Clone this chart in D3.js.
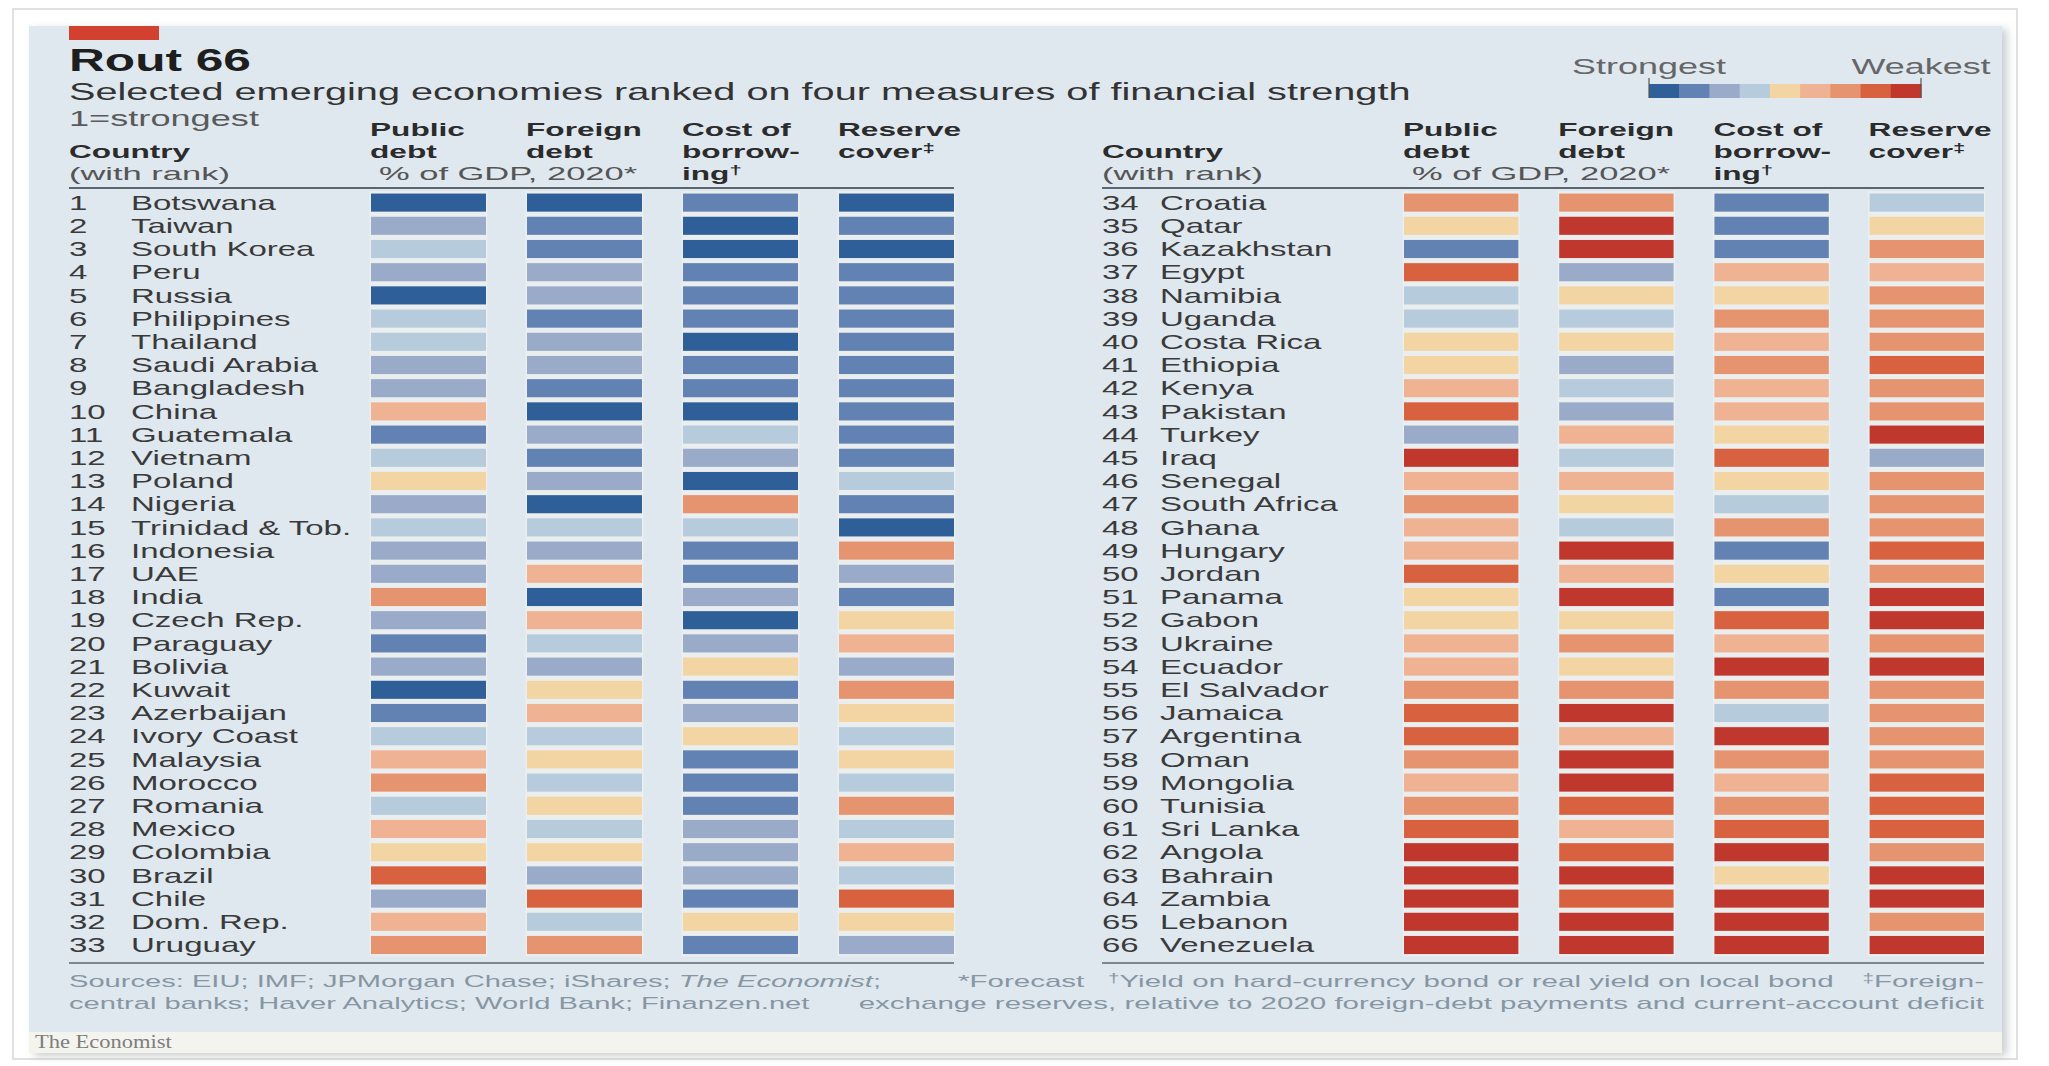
<!DOCTYPE html>
<html>
<head>
<meta charset="utf-8">
<script src="https://cdn.jsdelivr.net/npm/d3@7"></script>
<style>
  html, body { margin: 0; padding: 0; background: #ffffff; }
  svg { display: block; font-family: "Liberation Sans", Arial, sans-serif; }
</style>
</head>
<body>
<svg id="chart" width="2049" height="1066"></svg>
<script>
// Countries in overall rank order (1 = strongest)
const countries = [
  "Botswana", "Taiwan", "South Korea", "Peru", "Russia", "Philippines", "Thailand",
  "Saudi Arabia", "Bangladesh", "China", "Guatemala", "Vietnam", "Poland", "Nigeria",
  "Trinidad & Tob.", "Indonesia", "UAE", "India", "Czech Rep.", "Paraguay", "Bolivia",
  "Kuwait", "Azerbaijan", "Ivory Coast", "Malaysia", "Morocco", "Romania", "Mexico",
  "Colombia", "Brazil", "Chile", "Dom. Rep.", "Uruguay",
  "Croatia", "Qatar", "Kazakhstan", "Egypt", "Namibia", "Uganda", "Costa Rica",
  "Ethiopia", "Kenya", "Pakistan", "Turkey", "Iraq", "Senegal", "South Africa",
  "Ghana", "Hungary", "Jordan", "Panama", "Gabon", "Ukraine", "Ecuador",
  "El Salvador", "Jamaica", "Argentina", "Oman", "Mongolia", "Tunisia", "Sri Lanka",
  "Angola", "Bahrain", "Zambia", "Lebanon", "Venezuela"
];

// Strength band per measure, 1 = strongest ... 9 = weakest
const publicDebt = [
  1, 3, 4, 3, 1, 4, 4, 3, 3, 6, 2, 4, 5, 3, 4, 3, 3, 7, 3, 2, 3, 1, 2, 4, 6, 7, 4, 6, 5, 8, 3, 6, 7,
  7, 5, 2, 8, 4, 4, 5, 5, 6, 8, 3, 9, 6, 7, 6, 6, 8, 5, 5, 6, 6, 7, 8, 8, 7, 6, 7, 8, 9, 9, 9, 9, 9
];
const foreignDebt = [
  1, 2, 2, 3, 3, 2, 3, 3, 2, 1, 3, 2, 3, 1, 4, 3, 6, 1, 6, 4, 3, 5, 6, 4, 5, 4, 5, 4, 5, 3, 8, 4, 7,
  7, 9, 9, 3, 5, 4, 5, 3, 4, 3, 6, 4, 6, 5, 4, 9, 6, 9, 5, 7, 5, 7, 9, 6, 9, 9, 8, 6, 8, 9, 8, 9, 9
];
const costOfBorrowing = [
  2, 1, 1, 2, 2, 2, 1, 2, 2, 1, 4, 3, 1, 7, 4, 2, 2, 3, 1, 3, 5, 2, 3, 5, 2, 2, 2, 3, 3, 3, 2, 5, 2,
  2, 2, 2, 6, 5, 7, 6, 7, 6, 6, 5, 8, 5, 4, 7, 2, 5, 2, 8, 6, 9, 7, 4, 9, 7, 6, 7, 8, 9, 5, 9, 9, 9
];
const reserveCover = [
  1, 2, 1, 2, 2, 2, 2, 2, 2, 2, 2, 2, 4, 2, 1, 7, 3, 2, 5, 6, 3, 7, 5, 4, 5, 4, 7, 4, 6, 4, 8, 5, 3,
  4, 5, 7, 6, 7, 7, 7, 8, 7, 7, 9, 3, 7, 7, 7, 8, 7, 9, 9, 7, 9, 7, 7, 7, 7, 8, 8, 8, 7, 9, 9, 7, 9
];

const measureHeadings = [
  ["Public", "debt"],
  ["Foreign", "debt"],
  ["Cost of", "borrow-", "ing†"],
  ["Reserve", "cover‡"]
];
const bands = [1, 2, 3, 4, 5, 6, 7, 8, 9];
const bandColours = [
  "#2e5f98", "#6182b3", "#9aabc9", "#b6cbdb", "#f3d5a3",
  "#efb292", "#e6936f", "#d8613f", "#c0382d"
];
const legendLabels = ["Strongest", "Weakest"];

const title = "Rout 66";
const subtitle = "Selected emerging economies ranked on four measures of financial strength";
const rankNote = "1=strongest";
const unitNote = "% of GDP, 2020*";
const sourceLines = [
  ["Sources: EIU; IMF; JPMorgan Chase; iShares; ", "The Economist", ";"],
  ["central banks; Haver Analytics; World Bank; Finanzen.net"]
];
const noteForecast = "*Forecast";
const noteYield = "Yield on hard-currency bond or real yield on local bond";
const noteReserve1 = "Foreign-";
const noteReserve2 = "exchange reserves, relative to 2020 foreign-debt payments and current-account deficit";
const brand = "The Economist";

// ---------------------------------------------------------------
const svg = d3.select("#chart");
const colour = d3.scaleOrdinal().domain(bands).range(bandColours);

// natural width of a string, used to set the wide lettering of each text style
function measure(str, size, weight) {
  const t = svg.append("text").attr("font-size", size).attr("font-weight", weight).text(str);
  const w = t.node().getComputedTextLength();
  t.remove();
  return w;
}

const FONT = {
  title:  { size: 32, weight: 700 },
  sub:    { size: 24, weight: 400 },
  note:   { size: 22, weight: 400 },
  legend: { size: 22, weight: 400 },
  head:   { size: 19, weight: 700 },
  headSm: { size: 19, weight: 400 },
  row:    { size: 20, weight: 400 },
  foot:   { size: 17, weight: 400 }
};
FONT.title.sx  = 182 / measure(title, 32, 700);
FONT.sub.sx    = 1342 / measure(subtitle, 24, 400);
FONT.note.sx   = 190 / measure(rankNote, 22, 400);
FONT.legend.sx = 154 / measure("Strongest", 22, 400);
FONT.head.sx   = 116 / measure("Foreign", 19, 700);
FONT.headSm.sx = 161 / measure("(with rank)", 19, 400);
FONT.row.sx    = 145 / measure("Botswana", 20, 400);
FONT.foot.sx   = 1126 / measure(noteReserve2, 17, 400);
const FONT_SRC = { ...FONT.foot, sx: 741 / measure(sourceLines[1][0], 17, 400) };

function label(parent, x, y, str, f, o = {}) {
  const t = parent.append("text")
    .attr("transform", `translate(${x},${y}) scale(${f.sx},1)`)
    .attr("font-size", f.size)
    .attr("font-weight", f.weight)
    .attr("fill", o.fill || "#333")
    .attr("text-anchor", o.anchor || "start");
  if (o.family) t.attr("font-family", o.family);
  const m = /^(.*?)([†‡]?)$/.exec(str);
  if (o.supLead) {
    t.append("tspan").attr("font-size", f.size * 0.7).attr("dy", -5).text(o.supLead);
    t.append("tspan").attr("dy", 5).text(str);
  } else if (m[2]) {
    t.append("tspan").text(m[1]);
    t.append("tspan").attr("font-size", f.size * 0.7).attr("dy", -6).text(m[2]);
  } else {
    t.text(str);
  }
  return t;
}

// card, shadow and panel
const defs = svg.append("defs");
const sh = defs.append("filter").attr("id", "shadow").attr("x", "-2%").attr("y", "-2%")
  .attr("width", "104%").attr("height", "104%");
sh.append("feDropShadow").attr("dx", 5).attr("dy", 3).attr("stdDeviation", 4)
  .attr("flood-color", "#8a8f95").attr("flood-opacity", 0.45);

svg.append("rect").attr("x", 13).attr("y", 9).attr("width", 2004).attr("height", 1050)
  .attr("fill", "#ffffff").attr("stroke", "#d6d6d6").attr("stroke-width", 1.5);
svg.append("rect").attr("x", 29).attr("y", 26).attr("width", 1973).attr("height", 1027)
  .attr("fill", "#f4f4ef").attr("filter", "url(#shadow)");
svg.append("rect").attr("x", 29).attr("y", 26).attr("width", 1973).attr("height", 1006)
  .attr("fill", "#dfe8ef");

label(svg, 35, 1048, brand, { size: 18, weight: 400, sx: 1.25 },
  { fill: "#7d7d7d", family: "'Liberation Serif', 'DejaVu Serif', serif" });

// red tag, title block
svg.append("rect").attr("x", 69).attr("y", 26).attr("width", 90).attr("height", 14).attr("fill", "#d2412f");
label(svg, 69, 71, title, FONT.title, { fill: "#1e1e1e" });
label(svg, 69, 100, subtitle, FONT.sub, { fill: "#333" });
label(svg, 69, 126, rankNote, FONT.note, { fill: "#5a5a5a" });

// legend
const lg = svg.append("g");
const lx = d3.scaleBand().domain(bands).range([1649, 1921]);
lg.selectAll("rect").data(bands).join("rect")
  .attr("x", d => lx(d)).attr("y", 84)
  .attr("width", lx.bandwidth() + 0.5).attr("height", 14)
  .attr("fill", d => colour(d));
lx.range().forEach((x, i) => {
  lg.append("line").attr("x1", x).attr("x2", x).attr("y1", 78).attr("y2", 98)
    .attr("stroke", "#555").attr("stroke-width", 1.2);
  label(lg, x, 74, legendLabels[i], FONT.legend, { fill: "#666", anchor: "middle" });
});

// rows
const rows = countries.map((name, i) => ({
  rank: i + 1,
  name,
  values: [publicDebt[i], foreignDebt[i], costOfBorrowing[i], reserveCover[i]]
}));

const halves = [
  { rows: rows.slice(0, 33), rankX: 69,   nameX: 131,  cells: [371, 954] },
  { rows: rows.slice(33),    rankX: 1102, nameX: 1160, cells: [1404, 1984] }
];

const y = d3.scaleBand().domain(d3.range(33)).range([191, 956.6])
  .paddingInner(0.22).paddingOuter(0.11);

halves.forEach(h => {
  const g = svg.append("g");
  const x = d3.scaleBand().domain(d3.range(4)).range(h.cells).paddingInner(0.263);

  // header
  label(g, h.rankX, 158, "Country", FONT.head, { fill: "#2b2b2b" });
  label(g, h.rankX, 180, "(with rank)", FONT.headSm, { fill: "#555" });
  measureHeadings.forEach((lines, j) => {
    lines.forEach((ln, k) => {
      label(g, x(j) - 1, 136 + k * 22, ln, FONT.head, { fill: "#2b2b2b" });
    });
  });
  label(g, x(0) + 8, 180, unitNote, FONT.headSm, { fill: "#555" });

  // rules
  g.append("line").attr("x1", h.rankX).attr("x2", h.cells[1]).attr("y1", 188).attr("y2", 188)
    .attr("stroke", "#59656f").attr("stroke-width", 2.2);
  g.append("line").attr("x1", h.rankX).attr("x2", h.cells[1]).attr("y1", 963).attr("y2", 963)
    .attr("stroke", "#7b8791").attr("stroke-width", 2.2);

  // soft column backing behind the cells
  g.selectAll("rect.back").data(d3.range(4)).join("rect").attr("class", "back")
    .attr("x", j => x(j) - 1.5).attr("width", x.bandwidth() + 3)
    .attr("y", y(0) - 2.5).attr("height", y(32) + y.bandwidth() - y(0) + 5)
    .attr("fill", "#f3f1ef").attr("opacity", 0.6);

  const row = g.selectAll("g.row").data(h.rows).join("g").attr("class", "row")
    .attr("transform", (d, i) => `translate(0,${y(i)})`);

  row.each(function (d) {
    const r = d3.select(this);
    const base = y.bandwidth() / 2 + 7.2;
    label(r, h.rankX, base, String(d.rank), FONT.row, { fill: "#3a3a3a" });
    label(r, h.nameX, base, d.name, FONT.row, { fill: "#3a3a3a" });
  });

  row.selectAll("rect.cell").data(d => d.values).join("rect").attr("class", "cell")
    .attr("x", (v, j) => x(j)).attr("width", x.bandwidth())
    .attr("y", 0).attr("height", y.bandwidth())
    .attr("fill", v => colour(v));
});

// footnotes
const fn = svg.append("g");
const fFill = { fill: "#8796a3" };
const s1 = label(fn, 69, 987, "", FONT_SRC, fFill);
sourceLines[0].forEach((part, i) => {
  s1.append("tspan").attr("font-style", i === 1 ? "italic" : "normal").text(part);
});
label(fn, 69, 1009, sourceLines[1][0], FONT_SRC, fFill);
label(fn, 958, 987, noteForecast, FONT.foot, fFill);
label(fn, 1108, 987, noteYield, FONT.foot, { ...fFill, supLead: "†" });
label(fn, 1984, 987, noteReserve1, FONT.foot, { ...fFill, anchor: "end", supLead: "‡" });
label(fn, 1984, 1009, noteReserve2, FONT.foot, { ...fFill, anchor: "end" });
</script>
</body>
</html>
